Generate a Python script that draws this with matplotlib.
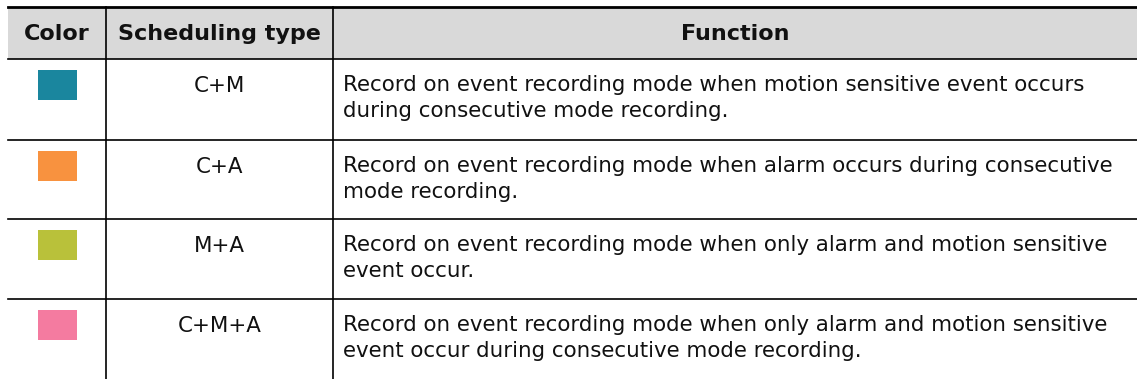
import matplotlib.pyplot as plt
from matplotlib.patches import Rectangle

headers = ["Color", "Scheduling type", "Function"]
swatch_colors = ["#1a869e", "#f8923f", "#b9c13a", "#f47ba0"]
sched_types = ["C+M", "C+A", "M+A", "C+M+A"]
functions = [
    "Record on event recording mode when motion sensitive event occurs\nduring consecutive mode recording.",
    "Record on event recording mode when alarm occurs during consecutive\nmode recording.",
    "Record on event recording mode when only alarm and motion sensitive\nevent occur.",
    "Record on event recording mode when only alarm and motion sensitive\nevent occur during consecutive mode recording.",
]

# layout in pixels
W, H = 1137, 379
left = 8
col_x = [left, 106, 333, W]
top = 7
head_bot = 59
row_tops = [59, 140, 219, 299]

fig = plt.figure(figsize=(W / 100, H / 100), dpi=100)
ax = fig.add_axes([0, 0, 1, 1])
ax.set_xlim(0, W)
ax.set_ylim(H, 0)
ax.axis("off")

# header band
ax.add_patch(Rectangle((left, top), W - left, head_bot - top, facecolor="#d9d9d9", edgecolor="none"))
ax.plot([left, W], [top, top], color="black", linewidth=2)
for y in row_tops:
    ax.plot([left, W], [y, y], color="black", linewidth=1.2)
for x in col_x[1:3]:
    ax.plot([x, x], [top, H], color="black", linewidth=1.2)

fs = 15.4
for i, h in enumerate(headers):
    cx = (col_x[i] + col_x[i + 1]) / 2
    ax.text(cx, (top + head_bot) / 2 + 1, h, ha="center", va="center",
            fontsize=16, fontweight="bold", color="#111111")

for r, (c, t, f) in enumerate(zip(swatch_colors, sched_types, functions)):
    y0 = row_tops[r]
    ax.add_patch(Rectangle((38, y0 + 11), 39, 30, facecolor=c, edgecolor="none"))
    ax.text((col_x[1] + col_x[2]) / 2, y0 + 33, t, ha="center", va="baseline",
            fontsize=fs, color="#111111")
    ax.text(343, y0 + 16, f, ha="left", va="top", fontsize=fs,
            color="#111111", linespacing=1.38)

fig.savefig("out.png", dpi=100)
